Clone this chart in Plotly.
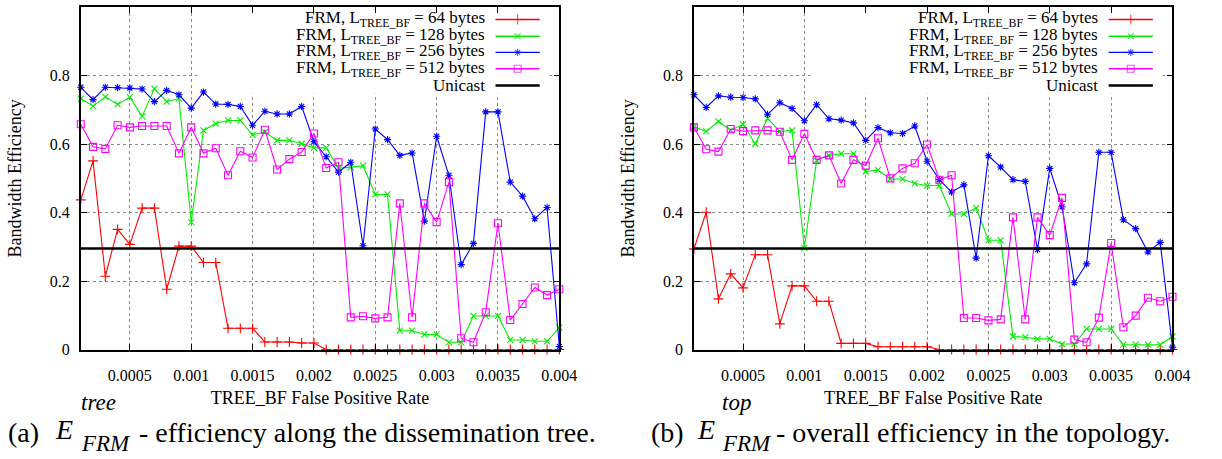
import plotly.graph_objects as go

# False positive rate of the tree Bloom filter (x axis, both panels)
fp_rate = [0.0001, 0.0002, 0.0003, 0.0004, 0.0005, 0.0006, 0.0007, 0.0008, 0.0009, 0.0010,
           0.0011, 0.0012, 0.0013, 0.0014, 0.0015, 0.0016, 0.0017, 0.0018, 0.0019, 0.0020,
           0.0021, 0.0022, 0.0023, 0.0024, 0.0025, 0.0026, 0.0027, 0.0028, 0.0029, 0.0030,
           0.0031, 0.0032, 0.0033, 0.0034, 0.0035, 0.0036, 0.0037, 0.0038, 0.0039, 0.0040]

# (a) efficiency along the dissemination tree
tree_64 = [0.437, 0.551, 0.214, 0.351, 0.307, 0.413, 0.413, 0.176, 0.302, 0.302,
           0.254, 0.254, 0.062, 0.062, 0.062, 0.022, 0.022, 0.022, 0.019, 0.019,
           0.0, 0.0, 0.0, 0.0, 0.0, 0.0, 0.0, 0.0, 0.0, 0.0,
           0.0, 0.0, 0.0, 0.0, 0.0, 0.0, 0.0, 0.0, 0.0, 0.0]
tree_128 = [0.733, 0.711, 0.738, 0.716, 0.737, 0.681, 0.762, 0.724, 0.733, 0.372,
            0.640, 0.660, 0.669, 0.669, 0.627, 0.635, 0.611, 0.611, 0.601, 0.589,
            0.589, 0.530, 0.532, 0.537, 0.453, 0.453, 0.055, 0.055, 0.044, 0.044,
            0.021, 0.021, 0.098, 0.098, 0.098, 0.028, 0.028, 0.024, 0.024, 0.064]
tree_256 = [0.766, 0.730, 0.766, 0.765, 0.764, 0.761, 0.724, 0.757, 0.744, 0.705,
            0.752, 0.717, 0.716, 0.710, 0.655, 0.696, 0.688, 0.688, 0.710, 0.607,
            0.563, 0.518, 0.547, 0.303, 0.644, 0.613, 0.567, 0.574, 0.375, 0.623,
            0.509, 0.248, 0.310, 0.694, 0.694, 0.489, 0.448, 0.382, 0.415, 0.009]
tree_512 = [0.658, 0.592, 0.586, 0.655, 0.649, 0.653, 0.653, 0.653, 0.573, 0.649,
            0.573, 0.588, 0.509, 0.579, 0.561, 0.642, 0.526, 0.556, 0.577, 0.631,
            0.530, 0.547, 0.094, 0.097, 0.091, 0.094, 0.427, 0.094, 0.427, 0.372,
            0.489, 0.033, 0.021, 0.109, 0.369, 0.086, 0.133, 0.181, 0.159, 0.176]

# (b) overall efficiency in the topology
top_64 = [0.294, 0.401, 0.148, 0.221, 0.180, 0.277, 0.277, 0.075, 0.186, 0.186,
          0.141, 0.141, 0.018, 0.018, 0.018, 0.008, 0.008, 0.008, 0.008, 0.008,
          0.0, 0.0, 0.0, 0.0, 0.0, 0.0, 0.0, 0.0, 0.0, 0.0,
          0.0, 0.0, 0.0, 0.0, 0.0, 0.0, 0.0, 0.0, 0.0, 0.0]
top_128 = [0.651, 0.637, 0.666, 0.640, 0.658, 0.601, 0.675, 0.637, 0.640, 0.297,
           0.552, 0.567, 0.572, 0.572, 0.520, 0.524, 0.498, 0.498, 0.485, 0.479,
           0.479, 0.396, 0.396, 0.413, 0.319, 0.319, 0.038, 0.036, 0.031, 0.031,
           0.016, 0.016, 0.060, 0.060, 0.060, 0.014, 0.014, 0.014, 0.014, 0.038]
top_256 = [0.744, 0.707, 0.741, 0.737, 0.736, 0.732, 0.687, 0.721, 0.704, 0.668,
           0.715, 0.674, 0.670, 0.662, 0.611, 0.648, 0.633, 0.631, 0.653, 0.550,
           0.496, 0.460, 0.481, 0.267, 0.566, 0.533, 0.496, 0.491, 0.292, 0.529,
           0.417, 0.195, 0.250, 0.576, 0.576, 0.379, 0.353, 0.285, 0.313, 0.007]
top_512 = [0.649, 0.585, 0.578, 0.644, 0.638, 0.640, 0.640, 0.636, 0.554, 0.630,
           0.554, 0.567, 0.485, 0.554, 0.537, 0.617, 0.500, 0.529, 0.544, 0.599,
           0.496, 0.509, 0.092, 0.092, 0.085, 0.088, 0.386, 0.088, 0.386, 0.334,
           0.443, 0.029, 0.021, 0.093, 0.311, 0.065, 0.099, 0.151, 0.141, 0.154]

unicast = 0.295

series_names = ["FRM, L<sub>TREE_BF</sub> = 64 bytes",
                "FRM, L<sub>TREE_BF</sub> = 128 bytes",
                "FRM, L<sub>TREE_BF</sub> = 256 bytes",
                "FRM, L<sub>TREE_BF</sub> = 512 bytes",
                "Unicast"]
series_colors = ["#ff0000", "#00ee00", "#0000ff", "#ff00ff", "#000000"]
series_symbols = ["cross-thin-open", "x-thin-open", "asterisk-open", "square-open", None]
series_sizes = [7, 6, 6, 7, 0]

x_ticks = [0.0005, 0.001, 0.0015, 0.002, 0.0025, 0.003, 0.0035, 0.004]
x_ticklabels = ["0.0005", "0.001", "0.0015", "0.002", "0.0025", "0.003", "0.0035", "0.004"]
y_ticks = [0, 0.2, 0.4, 0.6, 0.8, 1]
y_ticklabels = ["0", "0.2", "0.4", "0.6", "0.8", "1"]

W, H = 1222, 459
SERIF = "Liberation Serif"


def px_x(p):
    return p / W


def px_y(p):
    return (H - p) / H


fig = go.Figure()

panels = [("x", "y", [tree_64, tree_128, tree_256, tree_512]),
          ("x2", "y2", [top_64, top_128, top_256, top_512])]

for xa, ya, data in panels:
    for i, vals in enumerate(data):
        fig.add_trace(go.Scatter(
            x=fp_rate, y=vals, xaxis=xa, yaxis=ya, mode="lines+markers",
            line=dict(color=series_colors[i], width=1.1),
            marker=dict(symbol=series_symbols[i], size=series_sizes[i],
                        color=series_colors[i],
                        line=dict(color=series_colors[i], width=1.1)),
            showlegend=False, cliponaxis=False, hoverinfo="x+y"))
    fig.add_trace(go.Scatter(
        x=[fp_rate[0], fp_rate[-1]], y=[unicast, unicast], xaxis=xa, yaxis=ya,
        mode="lines", line=dict(color="#000000", width=2.5),
        showlegend=False, hoverinfo="y"))

    # key: text right-aligned, sample line (with its marker) to the right
    key_y = [0.964, 0.915, 0.868, 0.820, 0.771]
    key_x0, key_xm, key_x1, key_text_x = 0.00348, 0.00366, 0.00384, 0.00340
    for i, name in enumerate(series_names):
        sizes = [0, series_sizes[i], 0]
        fig.add_trace(go.Scatter(
            x=[key_x0, key_xm, key_x1], y=[key_y[i]] * 3, xaxis=xa, yaxis=ya,
            mode="lines+markers" if series_symbols[i] else "lines",
            line=dict(color=series_colors[i], width=1.4 if i < 4 else 2.5),
            marker=dict(symbol=series_symbols[i] or "circle", size=sizes,
                        color=series_colors[i],
                        line=dict(color=series_colors[i], width=1.1)),
            showlegend=False, hoverinfo="skip"))
        fig.add_annotation(x=key_text_x, y=key_y[i], xref=xa, yref=ya,
                           text=name, showarrow=False, xanchor="right",
                           yanchor="middle", borderpad=0,
                           font=dict(family=SERIF, size=17, color="black"))
    # opaque key background hides the grid behind it
    fig.add_shape(type="rect", xref=xa, yref=ya, x0=0.00105, x1=0.00392,
                  y0=0.747, y1=0.99, fillcolor="white", line=dict(width=0),
                  layer="between")

axis_common = dict(showline=True, linecolor="black", linewidth=1.5, mirror="allticks",
                   ticks="inside", ticklen=6, tickwidth=1, tickcolor="black",
                   showgrid=True, gridcolor="#8a8a8a", gridwidth=1, griddash="dot",
                   zeroline=False, tickfont=dict(family=SERIF, size=16, color="black"))

y_dom = [px_y(356.5), px_y(7.3)]
x_dom_a = [px_x(82), px_x(567.7)]
x_dom_b = [px_x(704.3), px_x(1190)]
title_font = dict(family=SERIF, size=18, color="black")

fig.update_layout(
    width=W, height=H, margin=dict(l=0, r=0, t=0, b=0),
    paper_bgcolor="white", plot_bgcolor="white",
    font=dict(family=SERIF, color="black"),
    xaxis=dict(domain=x_dom_a, range=[0.0001, 0.004], anchor="y",
               tickvals=x_ticks, ticktext=x_ticklabels, ticklabelstandoff=11,
               title=dict(text="TREE_BF False Positive Rate", standoff=8, font=title_font),
               **axis_common),
    yaxis=dict(domain=y_dom, range=[0, 1], anchor="x",
               tickvals=y_ticks, ticktext=y_ticklabels, ticklabelstandoff=6,
               title=dict(text="Bandwidth Efficiency", standoff=24, font=title_font),
               **axis_common),
    xaxis2=dict(domain=x_dom_b, range=[0.0001, 0.004], anchor="y2",
                tickvals=x_ticks, ticktext=x_ticklabels, ticklabelstandoff=11,
                title=dict(text="TREE_BF False Positive Rate", standoff=8, font=title_font),
                **axis_common),
    yaxis2=dict(domain=y_dom, range=[0, 1], anchor="x2",
                tickvals=y_ticks, ticktext=y_ticklabels, ticklabelstandoff=6,
                title=dict(text="Bandwidth Efficiency", standoff=24, font=title_font),
                **axis_common),
)

# sub-figure captions: E with stacked super/subscript
captions = [
    dict(lead=6, E=54, scripts=80, sup="tree", rest=139,
         text="- efficiency along the dissemination tree.", tag="(a)"),
    dict(lead=659, E=705, scripts=731, sup="top", rest=786,
         text="- overall efficiency in the topology.", tag="(b)"),
]
cap_font = dict(family=SERIF, size=28, color="black")
script_font = dict(family=SERIF, size=23, color="black")
for c in captions:
    fig.add_annotation(x=px_x(c["lead"]), y=px_y(441), xref="paper", yref="paper",
                       text=c["tag"], showarrow=False, xanchor="left", yanchor="middle",
                       font=cap_font)
    fig.add_annotation(x=px_x(c["E"]), y=px_y(438), xref="paper", yref="paper",
                       text="<i>E</i>", showarrow=False, xanchor="left", yanchor="middle",
                       font=cap_font)
    fig.add_annotation(x=px_x(c["scripts"]), y=px_y(411), xref="paper", yref="paper",
                       text="<i>" + c["sup"] + "</i>", showarrow=False, xanchor="left",
                       yanchor="middle", font=script_font)
    fig.add_annotation(x=px_x(c["scripts"]), y=px_y(452), xref="paper", yref="paper",
                       text="<i>FRM</i>", showarrow=False, xanchor="left",
                       yanchor="middle", font=script_font)
    fig.add_annotation(x=px_x(c["rest"]), y=px_y(441), xref="paper", yref="paper",
                       text=c["text"], showarrow=False, xanchor="left", yanchor="middle",
                       font=cap_font)

fig.write_html("out.html")
